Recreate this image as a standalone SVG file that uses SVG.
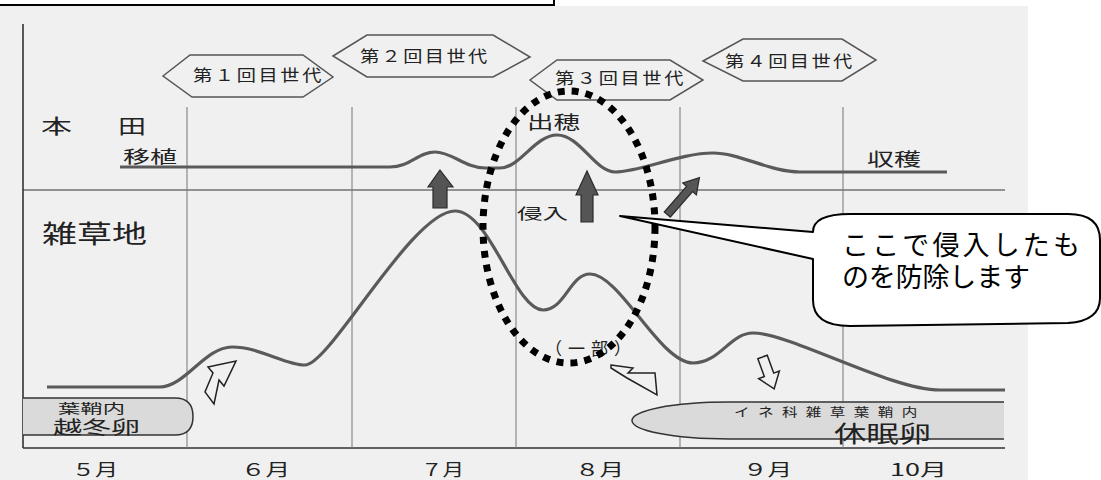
<svg xmlns="http://www.w3.org/2000/svg" width="1101" height="480" viewBox="0 0 1101 480">
<style>
.t{font-family:"Noto Sans CJK JP","Noto Sans",sans-serif;fill:#222}
.hex{fill:none;stroke:#555;stroke-width:1.5}
.grid{stroke:#777;stroke-width:1}
.axis{stroke:#333;stroke-width:1.6}
.curve{fill:none;stroke:#5a5a5a;stroke-width:3.2}
.solid{fill:#555;stroke:#2a2a2a;stroke-width:1.2}
.hollow{fill:#f0f0f0;stroke:#222;stroke-width:1.5;stroke-linejoin:miter}
.egg{fill:#dadada;stroke:#333;stroke-width:1.5}
</style>
<rect x="0" y="0" width="1101" height="480" fill="#ffffff"/>
<rect x="0" y="6" width="1028" height="474" fill="#f0f0f0"/>
<rect x="-5" y="-5" width="559" height="10" fill="#ffffff" stroke="#000" stroke-width="2"/>

<g id="frame">
<line class="axis" x1="23" y1="24" x2="23" y2="448"/>
<line class="axis" x1="23" y1="448" x2="1005" y2="448"/>
<line class="axis" x1="23" y1="190" x2="1005" y2="190" style="stroke-width:1.2"/>
<line class="grid" x1="187" y1="107" x2="187" y2="448"/>
<line class="grid" x1="352" y1="107" x2="352" y2="448"/>
<line class="grid" x1="516" y1="107" x2="516" y2="448"/>
<line class="grid" x1="680" y1="107" x2="680" y2="448"/>
<line class="grid" x1="843" y1="107" x2="843" y2="448"/>
</g>

<g id="eggs">
<path class="egg" d="M23,398 L175,398 Q193,398 193,416.5 Q193,435 175,435 L23,435"/>
<path class="egg" d="M1004,402 L730,402 C670,402 632,411 632,420.5 C632,430 670,439 730,439 L1004,439"/>
<text class="t" x="58" y="413" font-size="13" textLength="67" lengthAdjust="spacingAndGlyphs">葉鞘内</text>
<text class="t" x="53" y="434" font-size="18" textLength="87" lengthAdjust="spacingAndGlyphs">越冬卵</text>
<text class="t" transform="translate(734,417) scale(1.3,1)" x="0" y="0" font-size="12" textLength="141" lengthAdjust="spacing">イネ科雑草葉鞘内</text>
<text class="t" x="834" y="442" font-size="23" textLength="97" lengthAdjust="spacingAndGlyphs">休眠卵</text>
</g>

<g id="generations">
<g id="gen1"><polygon class="hex" points="163,76 190,55 303,55 333,77 303,97 192,97"/>
<text class="t" transform="translate(193,81) scale(1.2,1)" x="0" y="0" font-size="16" textLength="107" lengthAdjust="spacing">第１回目世代</text></g>
<g id="gen2"><polygon class="hex" points="333,56 367,35 493,35 530,57 493,77 367,77"/>
<text class="t" transform="translate(360,62) scale(1.2,1)" x="0" y="0" font-size="16" textLength="106" lengthAdjust="spacing">第２回目世代</text></g>
<g id="gen3"><polygon class="hex" points="530,80 557,60 670,60 703,80 670,100 557,100"/>
<text class="t" transform="translate(555,84) scale(1.2,1)" x="0" y="0" font-size="16" textLength="107" lengthAdjust="spacing">第３回目世代</text></g>
<g id="gen4"><polygon class="hex" points="703,61 743,39 842,39 876,60 842,81 743,81"/>
<text class="t" transform="translate(725,67) scale(1.2,1)" x="0" y="0" font-size="16" textLength="106" lengthAdjust="spacing">第４回目世代</text></g>
</g>

<g id="labels">
<text class="t" x="41" y="134" font-size="20" textLength="31" lengthAdjust="spacingAndGlyphs">本</text>
<text class="t" x="118" y="134" font-size="20" textLength="28" lengthAdjust="spacingAndGlyphs">田</text>
<text class="t" x="123" y="163" font-size="17" textLength="54" lengthAdjust="spacingAndGlyphs">移植</text>
<text class="t" x="42" y="243" font-size="25" textLength="105" lengthAdjust="spacingAndGlyphs">雑草地</text>
<text class="t" x="527" y="129" font-size="18" textLength="53" lengthAdjust="spacingAndGlyphs">出穂</text>
<text class="t" x="867" y="166" font-size="18" textLength="54" lengthAdjust="spacingAndGlyphs">収穫</text>
<text class="t" x="517" y="219" font-size="15" textLength="51" lengthAdjust="spacingAndGlyphs">侵入</text>
<text class="t" x="545" y="355" font-size="17" textLength="86" lengthAdjust="spacing">（一部）</text>
</g>

<g id="curves">
<path class="curve" d="M120,167 L390,167 C410,167 418,152 435,152 C452,152 465,168 485,168 L500,168 C520,168 535,135 557,135 C580,135 595,172 615,172 C640,172 680,153 713,153 C740,153 770,172 800,172 L947,172"/>
<path class="curve" d="M47,387 L160,387 C185,387 205,347 232,347 C260,347 285,365 305,365 C330,365 412,211 455,211 C490,211 515,310 543,310 C565,310 570,274 590,274 C620,274 660,363 693,363 C720,363 730,333 753,333 C790,333 890,390 940,390 L1005,390"/>
</g>

<g id="arrows">
<polygon class="solid" points="440,170 453,187 447,187 447,208 433,208 433,187 428,187"/>
<polygon class="solid" points="587,171 598,195 593,195 593,222 581,222 581,195 576,195"/>
<polygon class="solid" transform="translate(683,196.5) rotate(41)" points="0,-25 9,-10 4,-10 4,24 -4,24 -4,-10 -9,-10"/>
<polygon class="hollow" points="208,367 236,361 224,386 219,380 214,404 205,392 213,373"/>
<polygon class="hollow" points="611,365 633,368 628,373 655,373 657,395 627,378 611,368"/>
<polygon class="hollow" transform="translate(768,372) rotate(-20)" points="-5,-16 5,-16 5,3 11,3 0,18 -11,3 -5,3"/>
</g>

<g id="highlight">
<ellipse cx="569" cy="227" rx="86" ry="136" fill="none" stroke="#000" stroke-width="7" stroke-dasharray="7 7"/>
</g>

<g id="callout">
<path d="M620,216 L813,259 L813,300 Q813,326 850,326 L1068,323 Q1100,321 1100,298 L1100,240 Q1100,214 1068,214 L850,214 Q813,214 813,232 Z" fill="#ffffff" stroke="#000" stroke-width="2" stroke-linejoin="round"/>
<text class="t" x="842" y="255" font-size="27" textLength="238" lengthAdjust="spacing" style="fill:#000">ここで侵入したも</text>
<text class="t" x="842" y="287" font-size="27" textLength="188" lengthAdjust="spacing" style="fill:#000">のを防除します</text>
</g>

<g id="months">
<text class="t" x="72" y="476" font-size="17" textLength="46" lengthAdjust="spacingAndGlyphs">５月</text>
<text class="t" x="241" y="476" font-size="17" textLength="49" lengthAdjust="spacingAndGlyphs">６月</text>
<text class="t" x="421" y="476" font-size="17" textLength="43" lengthAdjust="spacingAndGlyphs">７月</text>
<text class="t" x="575" y="476" font-size="17" textLength="49" lengthAdjust="spacingAndGlyphs">８月</text>
<text class="t" x="743" y="476" font-size="17" textLength="49" lengthAdjust="spacingAndGlyphs">９月</text>
<text class="t" x="890" y="476" font-size="17" textLength="57" lengthAdjust="spacingAndGlyphs">10月</text>
</g>
</svg>
